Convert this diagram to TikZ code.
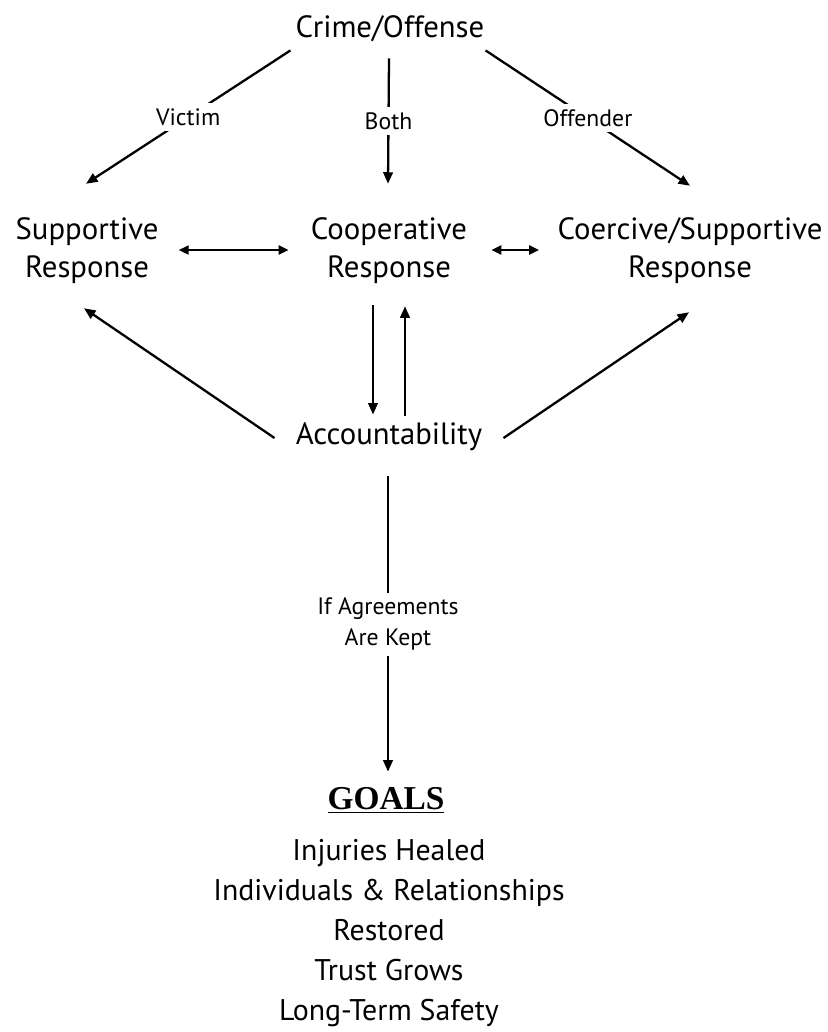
\documentclass[tikz,border=0pt]{standalone}
\usepackage{fontspec}
\setmainfont{PT Sans}
\newfontfamily\goalsfont{Liberation Serif}
\usetikzlibrary{arrows.meta}

\begin{document}
\begin{tikzpicture}[x=0.02cm, y=-0.02cm,
    stage/.style={align=center, inner sep=0pt, font=\fontsize{17.5}{21.5}\selectfont},
    lbl/.style={fill=white, inner sep=3pt, align=center, font=\fontsize{13.5}{17.5}\selectfont},
    arr/.style={line width=1.3pt, -{Triangle[length=2.3mm,width=1.9mm]}},
    dbl/.style={line width=1.3pt, {Triangle[length=2mm,width=1.8mm]}-{Triangle[length=2mm,width=1.8mm]}}]
\useasboundingbox (0,0) rectangle (828,1032);

\node[stage] (crime) at (390,29) {Crime/Offense};
\node[stage] (supp) at (87,251) {Supportive\\Response};
\node[stage] (coop) at (389,251) {Cooperative\\Response};
\node[stage] (coer) at (690,251) {Coercive/Supportive\\Response};
\node[stage] (acc) at (389,437) {Accountability};
\node[stage, font=\goalsfont\bfseries\fontsize{19}{24}\selectfont] (goals) at (386,800) {\underline{GOALS}};
\node[stage, font=\fontsize{17}{22.7}\selectfont] (aims) at (389,933)
      {Injuries Healed\\Individuals \& Relationships\\Restored\\Trust Grows\\Long-Term Safety};

% from the offense
\draw[arr] ([shift={(-5,8)}]crime.south west) -- node[lbl] {Victim} ([shift={(-1,-34)}]supp.north);
\draw[arr] ([shift={(-1,16)}]crime.south) -- node[lbl] {Both} ([shift={(-1,-34)}]coop.north);
\draw[arr] ([shift={(1,8)}]crime.south east) -- node[lbl] {Offender} ([shift={(0,-32)}]coer.north);

\draw[dbl] ([shift={(20,-1)}]supp.east) -- ([shift={(-22,-1)}]coop.west);
\draw[dbl] ([shift={(24,-1)}]coop.east) -- ([shift={(-18,-1)}]coer.west);

% accountability
\draw[arr] ([shift={(-16,21)}]coop.south) -- ([shift={(-16,-8)}]acc.north);
\draw[arr] ([shift={(16,-7)}]acc.north) -- ([shift={(16,22)}]coop.south);
\draw[arr] ([shift={(-21,1)}]acc.west) -- ([shift={(-3,24)}]supp.south);
\draw[arr] ([shift={(21,1)}]acc.east) -- ([shift={(-1,28)}]coer.south);

\draw[arr] ([shift={(-1,25)}]acc.south) -- node[lbl] {If Agreements\\Are Kept} ([shift={(2,-15)}]goals.north);

\end{tikzpicture}
\end{document}
